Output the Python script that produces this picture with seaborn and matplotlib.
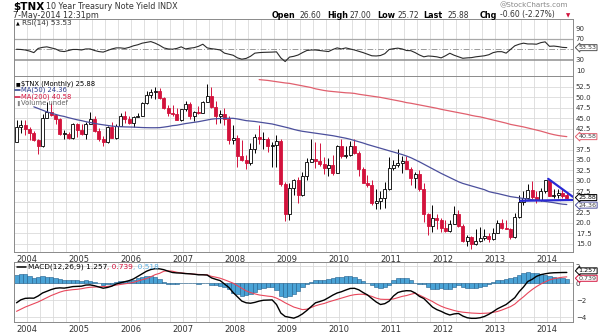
import numpy as np
import pandas as pd
import matplotlib
matplotlib.use("Agg")
import matplotlib.pyplot as plt
import matplotlib.transforms as mtrans
from matplotlib.lines import Line2D
import seaborn as sns

# ---------------- data (monthly, Oct 2003 .. May 2014) ----------------
months = pd.period_range("2003-10", periods=128, freq="M")

open_ = [39.4, 42.9, 43.3,
         42.5, 41.4, 39.7, 38.4, 45.1, 46.5, 45.8, 44.8, 41.2, 41.2, 40.3, 43.5,
         42.2, 41.3, 43.6, 44.8, 42.0, 39.9, 39.3, 42.8, 40.2, 43.2, 45.6, 44.9,
         43.9, 45.3, 45.5, 48.5, 50.5, 51.2, 51.4, 49.8, 47.3, 46.3, 46.1, 44.6,
         47.1, 48.3, 45.6, 46.4, 46.3, 48.9, 50.3, 47.7, 45.4, 45.9, 44.8, 39.7,
         40.3, 36.0, 35.1, 34.3, 37.7, 40.6, 39.9, 39.9, 38.3, 38.5, 39.5, 29.3,
         22.2, 28.4, 30.2, 26.6, 31.2, 34.6, 35.3, 34.8, 34.0, 33.1, 33.9, 32.0,
         38.4, 36.0, 36.1, 38.3, 36.6, 32.9, 29.5, 29.1, 24.7, 25.1, 26.0, 28.0,
         33.0, 33.7, 34.2, 34.7, 32.9, 30.6, 31.6, 28.0, 22.2, 19.2, 21.1, 20.7,
         18.8, 18.0, 19.7, 22.1, 19.2, 15.6, 16.5, 14.9, 15.6, 16.3, 16.9, 16.2,
         17.6, 19.9, 18.8, 18.5, 16.7, 21.3, 24.9, 25.8, 27.8, 26.1, 25.5, 27.5,
         30.3, 26.5, 26.6, 27.2, 26.6]
high = [44.5, 44.6, 44.5,
        42.9, 42.0, 40.0, 46.0, 48.9, 48.7, 46.1, 45.0, 42.2, 41.6, 43.9, 43.9,
        43.6, 44.0, 46.4, 45.5, 42.6, 40.7, 43.0, 44.1, 43.5, 46.2, 46.6, 45.6,
        45.6, 46.3, 48.8, 51.4, 52.0, 52.5, 52.1, 50.0, 48.2, 48.1, 47.3, 47.2,
        49.2, 48.9, 46.6, 47.9, 49.2, 53.2, 52.4, 49.2, 46.9, 47.3, 45.4, 43.3,
        41.0, 39.7, 36.3, 39.1, 41.1, 43.3, 41.7, 40.6, 39.3, 41.0, 40.1, 29.7,
        29.6, 30.4, 31.0, 32.1, 35.4, 40.0, 39.2, 39.0, 35.6, 35.5, 36.2, 38.6,
        39.9, 38.3, 39.6, 40.0, 37.1, 33.4, 31.4, 30.1, 28.0, 27.5, 29.8, 35.6,
        35.1, 37.7, 35.9, 36.0, 33.3, 32.1, 32.7, 29.5, 22.4, 24.3, 22.2, 21.2,
        20.6, 20.6, 23.9, 23.1, 19.6, 17.0, 16.8, 18.6, 18.9, 18.5, 17.6, 18.8,
        20.6, 20.8, 20.7, 18.7, 22.3, 26.6, 27.5, 29.2, 30.0, 27.6, 28.4, 30.3,
        30.4, 28.1, 28.1, 28.0, 27.0]
low = [39.2, 41.5, 41.0,
       39.7, 39.6, 36.5, 38.1, 45.0, 45.6, 43.5, 41.0, 39.9, 39.9, 40.0, 40.6,
       41.0, 39.9, 43.5, 41.6, 39.6, 38.3, 39.0, 40.2, 39.9, 43.0, 43.9, 43.5,
       42.9, 45.2, 45.4, 48.4, 49.8, 49.6, 49.6, 47.1, 45.6, 45.5, 44.6, 44.4,
       46.6, 44.9, 44.3, 45.9, 46.2, 48.9, 47.5, 43.5, 43.8, 43.4, 38.7, 38.8,
       33.4, 34.8, 32.8, 33.9, 36.7, 38.7, 37.6, 37.0, 33.4, 33.3, 28.7, 20.4,
       20.7, 26.6, 24.8, 26.5, 30.1, 34.4, 33.1, 33.6, 31.6, 31.2, 31.3, 31.8,
       35.4, 35.5, 35.9, 36.5, 31.2, 29.4, 28.6, 24.2, 23.3, 23.3, 23.5, 27.8,
       32.5, 33.4, 31.8, 32.9, 29.1, 28.4, 27.7, 20.3, 17.2, 17.7, 18.6, 17.8,
       17.9, 17.9, 19.6, 19.1, 15.3, 14.4, 13.8, 14.6, 15.4, 15.9, 15.5, 15.9,
       17.5, 18.5, 18.4, 16.1, 16.3, 21.1, 24.3, 25.6, 25.7, 24.8, 25.1, 27.0,
       26.4, 25.8, 25.8, 25.9, 25.72]
close = [42.9, 43.3, 42.5,
         41.4, 39.7, 38.4, 45.1, 46.5, 45.8, 44.8, 41.2, 41.2, 40.3, 43.5, 42.2,
         41.3, 43.6, 44.8, 42.0, 39.9, 39.3, 42.8, 40.2, 43.2, 45.6, 44.9, 43.9,
         45.3, 45.5, 48.5, 50.5, 51.2, 51.4, 49.8, 47.3, 46.3, 46.1, 44.6, 47.1,
         48.3, 45.6, 46.4, 46.3, 48.9, 50.3, 47.7, 45.4, 45.9, 44.8, 39.7, 40.3,
         36.0, 35.1, 34.3, 37.7, 40.6, 39.9, 39.9, 38.3, 38.5, 39.5, 29.3, 22.2,
         28.4, 30.2, 26.6, 31.2, 34.6, 35.3, 34.8, 34.0, 33.1, 33.9, 32.0, 38.4,
         36.0, 36.1, 38.3, 36.6, 32.9, 29.5, 29.1, 24.7, 25.1, 26.0, 28.0, 33.0,
         33.7, 34.2, 34.7, 32.9, 30.6, 31.6, 28.0, 22.2, 19.2, 21.1, 20.7, 18.8,
         18.0, 19.7, 22.1, 19.2, 15.6, 16.5, 14.9, 15.6, 16.3, 16.9, 16.2, 17.6,
         19.9, 18.8, 18.5, 16.7, 21.3, 24.9, 25.8, 27.8, 26.1, 25.5, 27.5, 30.3,
         26.5, 26.6, 27.2, 26.48, 25.88]

ma50_start = 4
ma50 = [47.7, 47.3, 46.9, 46.5, 46.2, 45.9, 45.6, 45.4, 45.1, 44.85,
        44.6, 44.4, 44.15, 43.95, 43.75, 43.55, 43.4, 43.25, 43.1, 43.0,
        42.95, 42.9, 42.88, 42.85, 42.8, 42.75, 42.72, 42.7, 42.7, 42.72,
        42.85, 43.0, 43.2, 43.3, 43.5, 43.7, 43.85, 44.0, 44.15, 44.35,
        44.55, 44.75, 44.85, 44.9, 44.95, 44.95, 44.95, 44.8, 44.6, 44.4,
        44.3, 44.2, 44.05, 43.9, 43.75, 43.6, 43.35, 43.1, 42.85, 42.6,
        42.3, 42.05, 41.85, 41.7, 41.55, 41.4, 41.25, 41.1, 40.95, 40.8,
        40.6, 40.4, 40.2, 39.95, 39.65, 39.35, 39.05, 38.7, 38.4, 38.1,
        37.8, 37.5, 37.2, 36.9, 36.6, 36.3, 35.95, 35.55, 35.05, 34.55,
        34.0, 33.45, 32.9, 32.35, 31.8, 31.3, 30.8, 30.3, 29.8, 29.4,
        29.1, 28.8, 28.5, 28.2, 27.9, 27.45, 27.2, 27.0, 26.75, 26.5,
        26.25, 26.1, 25.95, 25.8, 25.65, 25.5, 25.4, 25.25, 25.1, 24.95,
        24.8, 24.6, 24.45, 24.36]

ma200_start = 56
ma200 = [54.2, 54.1, 54.0, 53.85, 53.7, 53.55, 53.4, 53.3, 53.1, 52.9,
         52.7, 52.5, 52.3, 52.0, 51.8, 51.6, 51.45, 51.35, 51.25, 51.15,
         51.05, 51.0, 50.9, 50.7, 50.55, 50.4, 50.25, 50.1, 49.95, 49.75,
         49.55, 49.35, 49.15, 48.95, 48.7, 48.55, 48.35, 48.15, 47.95, 47.75,
         47.55, 47.35, 47.1, 46.9, 46.7, 46.5, 46.3, 46.1, 45.9, 45.65,
         45.45, 45.3, 45.05, 44.8, 44.55, 44.3, 44.05, 43.8, 43.5, 43.3,
         43.1, 42.9, 42.65, 42.4, 42.15, 41.9, 41.6, 41.3, 41.05, 40.85,
         40.7, 40.58]

rsi = [50.4, 50, 49, 47, 44, 52, 54, 55, 53, 51,
       47, 46, 48, 50, 50, 49, 51, 51, 48, 46,
       45, 48, 51, 53, 53, 52, 54, 57, 59, 62,
       63.5, 65, 62, 58, 53, 51, 50.5, 52, 55, 51,
       52.5, 53.5, 56, 60, 53, 51.5, 50.5, 49, 43, 41,
       39, 34, 31.5, 33, 37, 43, 44, 44.5, 44.7, 45,
       45.5, 34, 27, 35.5, 37, 39.5, 44, 48, 49, 49,
       48, 47, 46, 50, 53, 51, 53, 51, 49, 46.5,
       44, 41, 38, 37.6, 38.5, 42, 50, 51.5, 52.5, 51,
       48, 47.7, 44, 39.5, 36, 37.6, 37, 36, 34, 38,
       42.8, 39, 36, 33.2, 34, 34.5, 36, 37, 38, 40,
       44, 45.8, 45.8, 43, 50, 57, 60, 62, 60.5, 60.5,
       60, 63, 64.5, 56, 56.5, 55.5, 54, 53.53]

macd = [-2.3, -1.95, -1.78, -1.75, -1.76, -1.5, -1.15, -0.95, -0.75, -0.6,
        -0.55, -0.58, -0.5, -0.4, -0.38, -0.35, -0.22, -0.2, -0.3, -0.45,
        -0.59, -0.5, -0.35, -0.1, 0.05, 0.18, 0.3, 0.5, 0.8, 1.1,
        1.4, 1.6, 1.7, 1.68, 1.58, 1.4, 1.25, 1.2, 1.18, 1.12,
        1.1, 1.05, 0.98, 0.98, 0.95, 0.62, 0.45, 0.3, -0.1, -0.5,
        -1.1, -1.6, -2.1, -2.3, -2.35, -2.25, -2.1, -2.0, -1.98, -1.96,
        -2.5, -3.5, -3.9, -4.0, -4.1, -3.9, -3.6, -3.2, -2.75, -2.3,
        -2.15, -1.98, -1.7, -1.4, -1.15, -1.0, -0.8, -0.62, -0.6, -0.78,
        -1.1, -1.38, -1.8, -2.2, -2.5, -2.4, -2.1, -1.5, -1.1, -0.95,
        -0.88, -0.9, -1.15, -1.55, -1.8, -2.3, -2.8, -3.1, -3.3, -3.55,
        -3.73, -3.6, -3.55, -3.85, -4.05, -4.12, -4.12, -4.05, -3.9, -3.65,
        -3.34, -3.0, -2.75, -2.5, -2.1, -1.7, -1.0, -0.45, 0.2, 0.45,
        0.8, 1.0, 1.1, 1.18, 1.22, 1.24, 1.25, 1.257]
signal = [-3.3, -3.05, -2.8, -2.6, -2.4, -2.2, -1.95, -1.7, -1.45, -1.25,
          -1.05, -0.9, -0.82, -0.76, -0.72, -0.65, -0.55, -0.48, -0.45, -0.42,
          -0.4, -0.38, -0.3, -0.22, -0.15, -0.08, 0.0, 0.1, 0.25, 0.4,
          0.55, 0.75, 1.0, 1.15, 1.4, 1.45, 1.4, 1.28, 1.2, 1.15,
          1.1, 1.05, 1.02, 1.0, 0.98, 0.8, 0.7, 0.58, 0.4, 0.2,
          0.0, -0.3, -0.6, -0.9, -1.1, -1.25, -1.38, -1.45, -1.52, -1.57,
          -1.75, -2.0, -2.3, -2.55, -2.8, -2.95, -3.1, -3.05, -2.85, -2.65,
          -2.5, -2.38, -2.2, -2.05, -1.9, -1.75, -1.6, -1.45, -1.35, -1.3,
          -1.3, -1.4, -1.55, -1.75, -1.88, -1.9, -1.9, -1.85, -1.7, -1.55,
          -1.45, -1.3, -1.18, -1.4, -1.65, -1.9, -2.15, -2.45, -2.7, -2.9,
          -3.05, -3.2, -3.32, -3.4, -3.45, -3.5, -3.53, -3.55, -3.53, -3.5,
          -3.42, -3.32, -3.15, -2.95, -2.75, -2.45, -2.0, -1.6, -1.15, -0.75,
          -0.4, -0.1, 0.15, 0.38, 0.52, 0.62, 0.7, 0.739]

# hand-drawn trendlines (month index, value)
trend1_x, trend1_y = [122.7, 128.4], [30.5, 26.2]
trend2_x, trend2_y = [116.2, 128.4], [25.25, 25.45]

# price-axis labels hidden in the original under the value boxes
hidden_price_labels = [25.0, 40.0]

# ---------------- styling ----------------
sns.set_style("white")
plt.rcParams['font.family'] = ['DejaVu Sans']

RED = '#d3123c'
BLUE_MA = '#4b4f9c'
RED_MA = '#e0606e'
GRID = '#dadada'
SPINE = '#8a8a8a'
TXT = '#333333'

W, H = 607, 333
fig = plt.figure(figsize=(W / 100, H / 100), dpi=100)
fig.patch.set_facecolor('white')


def ax_at(l, t, r, b):
    return fig.add_axes([l / W, 1 - b / H, (r - l) / W, (b - t) / H])


X0, X1 = 14, 573
ax_rsi = ax_at(X0, 19, X1, 76)
ax_main = ax_at(X0, 76, X1, 252)
ax_macd = ax_at(X0, 261.5, X1, 322)

idx = np.arange(len(months))
xmin, xmax = -0.58, 128.43
jan_idx = [k for k, p in enumerate(months) if p.month == 1]
quarter_lines = [k - 0.5 for k, p in enumerate(months) if p.month in (1, 4, 7, 10)]

for ax in (ax_rsi, ax_main, ax_macd):
    ax.set_xlim(xmin, xmax)
    ax.set_facecolor('white')
    for s in ax.spines.values():
        s.set_color(SPINE)
        s.set_linewidth(0.7)
    for q in quarter_lines:
        ax.axvline(q, color=GRID, lw=0.6, zorder=0)
    ax.yaxis.tick_right()
    ax.tick_params(axis='y', length=0, labelsize=5.0, pad=2, colors=TXT)
    ax.tick_params(axis='x', length=0, labelsize=6, pad=2, colors=TXT)
    ax.set_xticks([j - 0.5 for j in jan_idx])
    ax.set_xticklabels([str(months[j].year) for j in jan_idx])

ax_rsi.set_xticklabels([])

# ---------------- main panel ----------------
ax_main.set_ylim(13.02, 55.06)
grid_levels = np.arange(15, 53.0, 2.5)
for v in grid_levels:
    ax_main.axhline(v, color=GRID, lw=0.6, zorder=0)
yt = [v for v in grid_levels if round(v, 1) not in hidden_price_labels]
ax_main.set_yticks(yt)
ax_main.set_yticklabels([f"{v:.1f}" for v in yt])

for i, (o, h, l, c) in enumerate(zip(open_, high, low, close)):
    prev = close[i - 1] if i > 0 else o - 1
    col = RED if c < prev else 'black'
    hollow = c >= o
    ax_main.vlines(i, l, h, color=col, lw=0.7, zorder=3)
    ax_main.bar(i, max(abs(c - o), 0.18), bottom=min(o, c), width=0.68,
                facecolor='white' if hollow else col, edgecolor=col,
                linewidth=0.6, zorder=4)

sns.lineplot(x=idx[ma50_start:], y=ma50, ax=ax_main, color=BLUE_MA, lw=0.9,
             legend=False, zorder=5)
sns.lineplot(x=idx[ma200_start:], y=ma200, ax=ax_main, color=RED_MA, lw=0.9,
             legend=False, zorder=5)
for tx, ty in ((trend1_x, trend1_y), (trend2_x, trend2_y)):
    sns.lineplot(x=tx, y=ty, ax=ax_main, color='#2a2ad4', lw=1.6,
                 legend=False, zorder=6)
ax_main.set_xlabel('')
ax_main.set_ylabel('')

# ---------------- RSI panel ----------------
ax_rsi.set_ylim(-0.5, 108)
ax_rsi.set_yticks([10, 30, 70, 90])
ax_rsi.axhline(70, color='#a8a8a8', lw=0.9, zorder=1)
ax_rsi.axhline(30, color='#909090', lw=1.1, zorder=1)
ax_rsi.axhline(50, color='#9a9a9a', lw=0.7, ls=(0, (6, 2, 1, 2)), zorder=1)
sns.lineplot(x=idx, y=rsi, ax=ax_rsi, color='#2a2a2a', lw=0.8, legend=False,
             zorder=4)
ax_rsi.set_xlabel('')
ax_rsi.set_ylabel('')

# ---------------- MACD panel ----------------
ax_macd.set_ylim(-4.55, 2.54)
ax_macd.set_yticks([-4, -2, 0, 2])
for v in (-4, -2, 0, 2):
    ax_macd.axhline(v, color=GRID, lw=0.6, zorder=0)
hist = np.array(macd) - np.array(signal)
ax_macd.bar(idx, hist, width=1.0, color='#4aa3d6', edgecolor='#1f5e8c',
            linewidth=0.4, zorder=2)
sns.lineplot(x=idx, y=signal, ax=ax_macd, color='#e8475b', lw=0.8,
             legend=False, zorder=4)
sns.lineplot(x=idx, y=macd, ax=ax_macd, color='black', lw=1.0,
             legend=False, zorder=5)
ax_macd.set_xlabel('')
ax_macd.set_ylabel('')


# ---------------- value boxes on right axis ----------------
def value_box(ax, val, txt, ec, tc='black', dy_px=0.0):
    tr = mtrans.blended_transform_factory(ax.transAxes, ax.transData)
    tr = tr + mtrans.ScaledTranslation(0, -dy_px / 100, fig.dpi_scale_trans)
    ax.text(1 + 5.5 / (X1 - X0), val, txt, transform=tr, fontsize=4.6,
            color=tc, va='center', ha='left', zorder=20, clip_on=False,
            bbox=dict(boxstyle='larrow,pad=0.08', fc='white', ec=ec, lw=0.7))


value_box(ax_main, 40.58, '40.58', RED_MA, '#444444')
value_box(ax_main, 24.36, '24.36', BLUE_MA, '#444444', dy_px=0.6)
value_box(ax_main, 25.88, '25.88', 'black', 'black', dy_px=-0.6)
value_box(ax_rsi, 53.53, '53.53', '#555555', '#333333')
value_box(ax_macd, 0.739, '0.739', RED, '#444444', dy_px=1.4)
value_box(ax_macd, 1.257, '1.257', 'black', 'black', dy_px=-1.6)


# ---------------- texts ----------------
def ftext(x, y, s, **kw):
    kw.setdefault('va', 'center')
    kw.setdefault('ha', 'left')
    return fig.text(x / W, 1 - y / H, s, **kw)


fig.canvas.draw()
renderer = fig.canvas.get_renderer()


def chain(x, y, parts, gap=0.0):
    for s, kw in parts:
        t = ftext(x, y, s, **kw)
        bb = t.get_window_extent(renderer=renderer)
        x = bb.x1 + gap


def icon_line(x0, x1, y, color, lw=1.0):
    fig.add_artist(Line2D([x0 / W, x1 / W], [1 - y / H, 1 - y / H],
                          color=color, lw=lw, transform=fig.transFigure))


ftext(13, 6.5, '$TNX', fontsize=7.5, fontweight='bold', color='black')
ftext(46, 6.8, '10 Year Treasury Note Yield INDX', fontsize=5.8, color=TXT)
ftext(13, 15, '7-May-2014 12:31pm', fontsize=5.8, color=TXT)
ftext(568, 5, '@StockCharts.com', fontsize=5.2, color='#888888', ha='right')

hdr = [(272, 'Open', True), (300, '26.60', False), (327, 'High', True),
       (350, '27.00', False), (377, 'Low', True), (397, '25.72', False),
       (423, 'Last', True), (447, '25.88', False), (480, 'Chg', True),
       (500, '-0.60 (-2.27%)', False)]
for x, s, b in hdr:
    ftext(x, 15, s, fontsize=5.8 if b else 5.5,
          fontweight='bold' if b else 'normal', color='black' if b else TXT)
ftext(566, 15.5, '\u25BC', fontsize=4, color=RED)

# RSI legend
ftext(15.5, 23, '\u25B2', fontsize=3.5, color='black')
ftext(22, 23, 'RSI(14) 53.53', fontsize=5.2, color=TXT)

# main legend
leg_y = [83.5, 90.0, 96.5, 103.0]
ftext(15.5, leg_y[0], '\u25A0', fontsize=3.5, color='black')
ftext(21, leg_y[0], '$TNX (Monthly) 25.88', fontsize=4.9, color='black')
icon_line(15, 20, leg_y[1], '#283a8c', lw=1.1)
ftext(21, leg_y[1], 'MA(50) 24.36', fontsize=4.9, color='#283a8c')
icon_line(15, 20, leg_y[2], RED, lw=1.1)
ftext(21, leg_y[2], 'MA(200) 40.58', fontsize=4.9, color=RED)
ftext(15.5, leg_y[3], '\u2590', fontsize=3.5, color='#888888')
ftext(21, leg_y[3], 'Volume undef', fontsize=4.9, color='#666666')

# MACD legend
icon_line(17, 26, 266.5, 'black', lw=1.1)
chain(28, 266.5, [('MACD(12,26,9) 1.257', dict(fontsize=5.3, color='black')),
                  (', 0.739', dict(fontsize=5.3, color=RED)),
                  (', 0.518', dict(fontsize=5.3, color='#5aaee0'))])

fig.savefig('out.png', dpi=100, facecolor='white')
